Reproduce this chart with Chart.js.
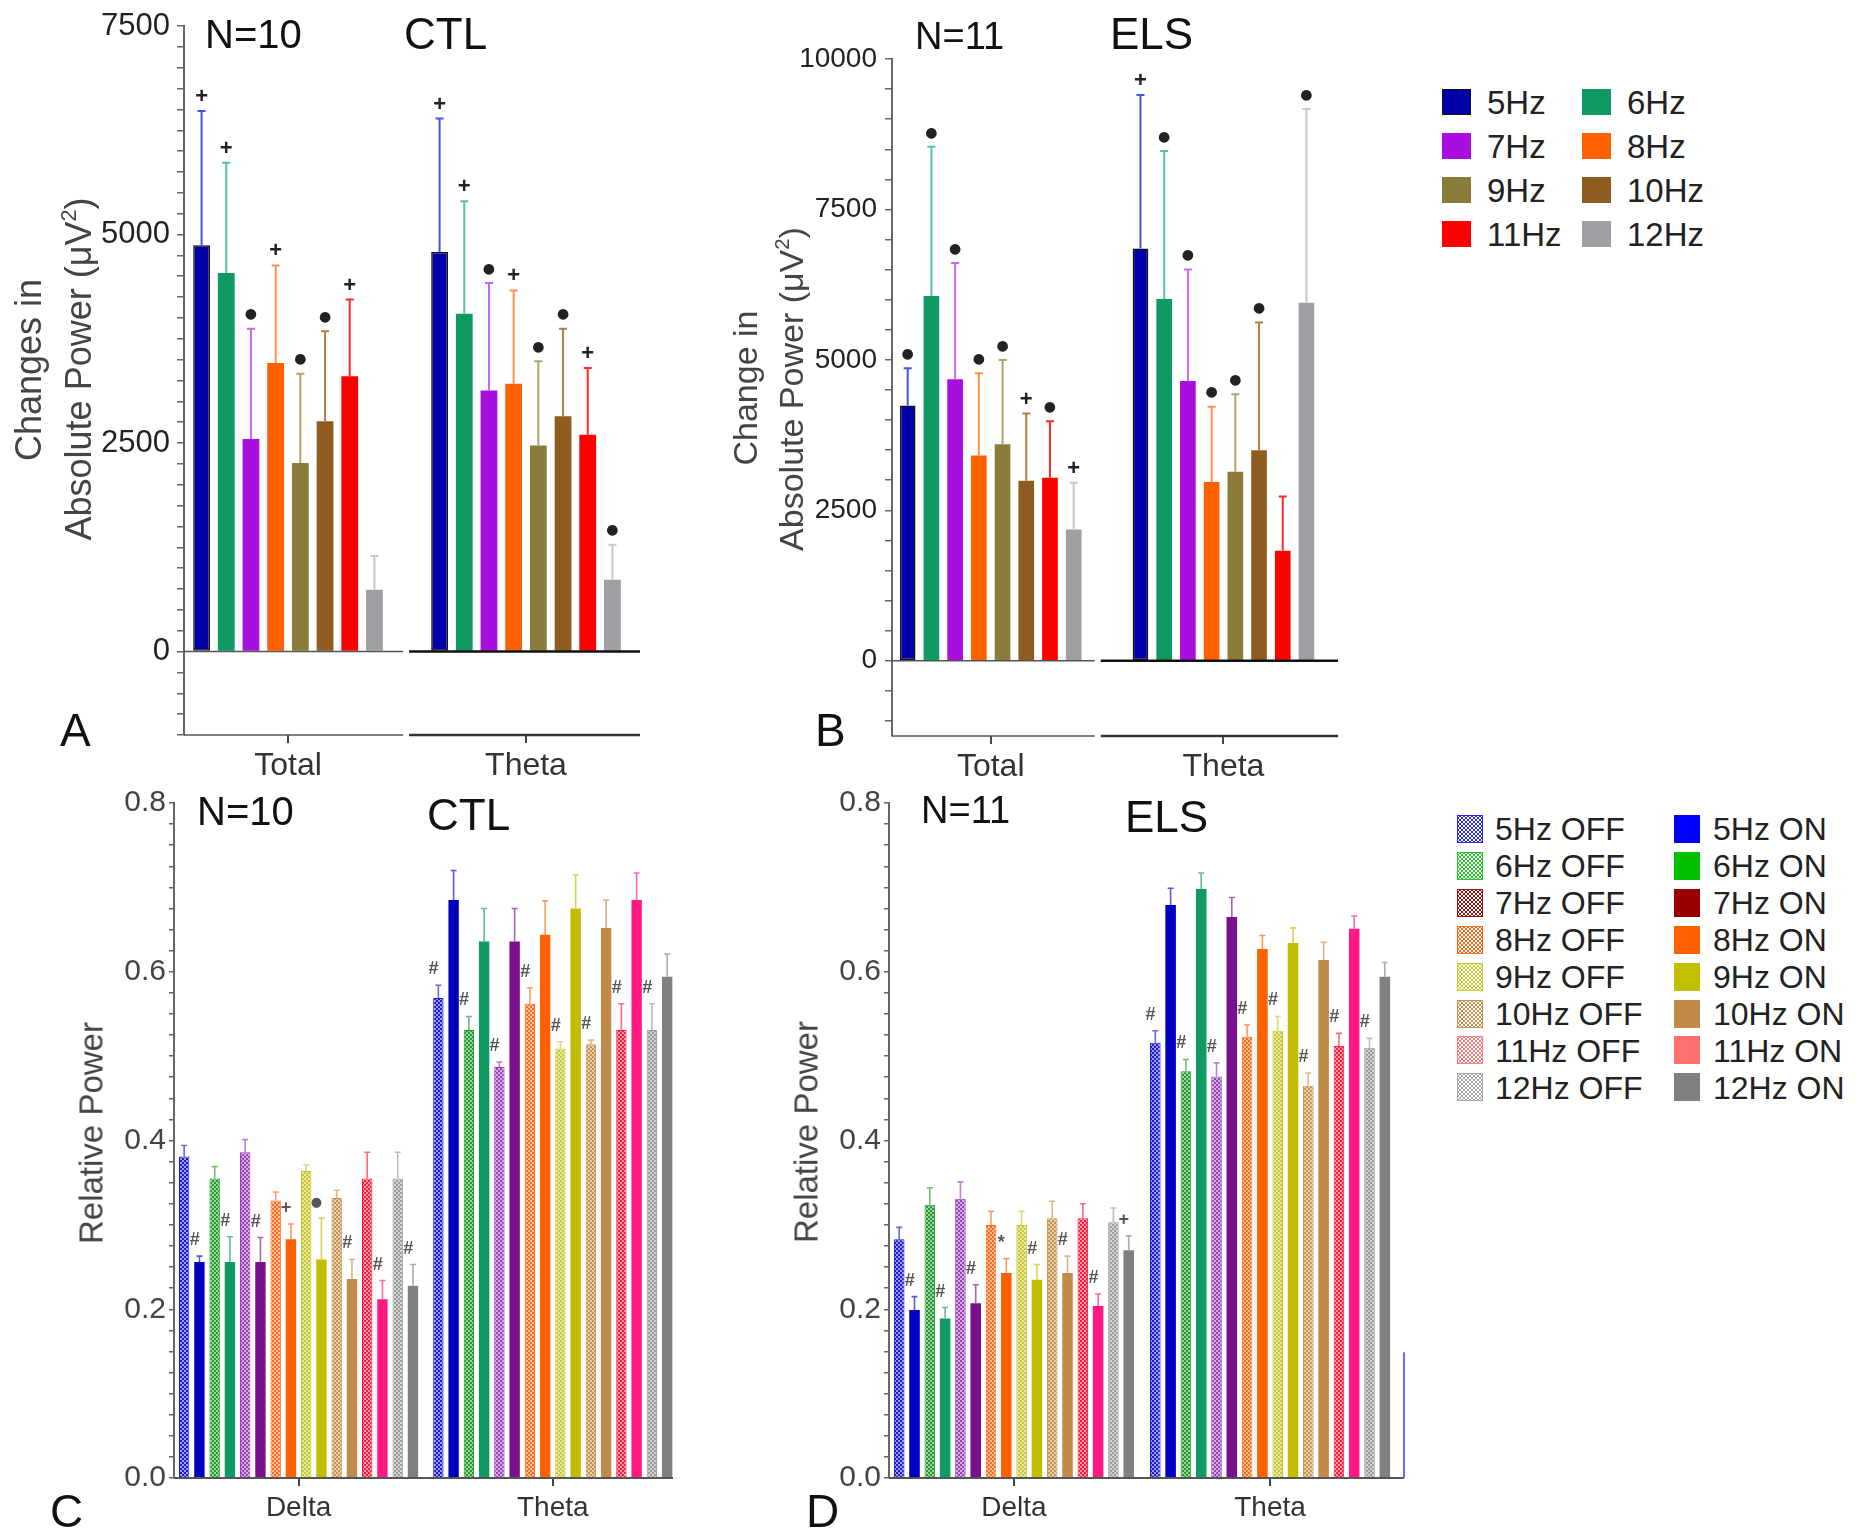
<!DOCTYPE html>
<html>
<head>
<meta charset="utf-8">
<script src="https://cdn.jsdelivr.net/npm/chart.js@4.4.1/dist/chart.umd.min.js"></script>
<style>
body { margin: 0; background: #fff; font-family: "Liberation Sans", Arial, sans-serif; }
#fig { position: relative; width: 1860px; height: 1535px; overflow: hidden; background: #fff; }
canvas { position: absolute; }
.t { position: absolute; white-space: nowrap; line-height: 1; color: #111; }
.yt { position: absolute; white-space: nowrap; line-height: 1; color: #444; transform: translate(-50%, -50%) rotate(-90deg); }
.yt sup { font-size: 0.6em; vertical-align: 0.7em; line-height: 0; }
.sq { position: absolute; box-sizing: border-box; }
.lg { position: absolute; white-space: nowrap; line-height: 1; color: #222; }
</style>
</head>
<body>
<div id="fig">
  <canvas id="cA" width="680" height="800" style="left:0;top:0"></canvas>
  <canvas id="cB" width="680" height="800" style="left:700px;top:0"></canvas>
  <canvas id="cC" width="700" height="765" style="left:0;top:770px"></canvas>
  <canvas id="cD" width="660" height="765" style="left:780px;top:770px"></canvas>

  <div class="t" style="left:205px;top:14px;font-size:40px">N=10</div>
  <div class="t" style="left:404px;top:12px;font-size:44px">CTL</div>
  <div class="t" style="left:915px;top:17px;font-size:38px">N=11</div>
  <div class="t" style="left:1110px;top:12px;font-size:44px">ELS</div>
  <div class="t" style="left:197px;top:791px;font-size:40px">N=10</div>
  <div class="t" style="left:427px;top:793px;font-size:44px">CTL</div>
  <div class="t" style="left:921px;top:791px;font-size:38px">N=11</div>
  <div class="t" style="left:1125px;top:795px;font-size:44px">ELS</div>

  <div class="t" style="left:60px;top:707px;font-size:46px">A</div>
  <div class="t" style="left:815px;top:707px;font-size:46px">B</div>
  <div class="t" style="left:50px;top:1488px;font-size:46px">C</div>
  <div class="t" style="left:806px;top:1488px;font-size:46px">D</div>

  <div class="yt" style="left:29px;top:370px;font-size:36px">Changes in</div>
  <div class="yt" style="left:79px;top:369px;font-size:36px">Absolute Power (μV<sup>2</sup>)</div>
  <div class="yt" style="left:745px;top:388px;font-size:34px">Change in</div>
  <div class="yt" style="left:791px;top:389px;font-size:34px">Absolute Power (μV<sup>2</sup>)</div>
  <div class="yt" style="left:91px;top:1133px;font-size:33px">Relative Power</div>
  <div class="yt" style="left:806px;top:1132px;font-size:33px">Relative Power</div>
</div>

<script>
// categories
const freqs = ['5Hz', '6Hz', '7Hz', '8Hz', '9Hz', '10Hz', '11Hz', '12Hz'];
const bandsAB = ['Total', 'Theta'];
const bandsCD = ['Delta', 'Theta'];
const conditions = freqs.flatMap(f => [f + ' OFF', f + ' ON']);

// A - CTL, change in absolute power (mean, top of error bar, marker)
const ctlTotal    = [4870, 4540, 2550, 3460, 2260, 2760, 3300, 740];
const ctlTotalErr = [6480, 5860, 3870, 4630, 3330, 3840, 4220, 1145];
const ctlTotalSig = ['+', '+', '●', '+', '●', '●', '+', ''];
const ctlTheta    = [4790, 4050, 3130, 3210, 2470, 2820, 2600, 860];
const ctlThetaErr = [6390, 5400, 4420, 4330, 3480, 3870, 3400, 1280];
const ctlThetaSig = ['+', '+', '●', '+', '●', '●', '+', '●'];

// B - ELS, change in absolute power
const elsTotal    = [4240, 6060, 4680, 3410, 3600, 2990, 3040, 2180];
const elsTotalErr = [4860, 8540, 6610, 4780, 5000, 4110, 3980, 2960];
const elsTotalSig = ['●', '●', '●', '●', '●', '+', '●', '+'];
const elsTheta    = [6850, 6010, 4650, 2970, 3140, 3500, 1830, 5950];
const elsThetaErr = [9400, 8470, 6500, 4220, 4430, 5620, 2730, 9170];
const elsThetaSig = ['+', '●', '●', '●', '●', '●', '', '●'];

// C - CTL relative power, order: 5Hz OFF, 5Hz ON, 6Hz OFF, ...
const ctlDelta       = [0.381, 0.256, 0.355, 0.256, 0.386, 0.256, 0.329, 0.283, 0.364, 0.259, 0.332, 0.236, 0.355, 0.212, 0.355, 0.228];
const ctlDeltaErr    = [0.394, 0.263, 0.369, 0.286, 0.401, 0.285, 0.339, 0.301, 0.371, 0.308, 0.341, 0.259, 0.386, 0.234, 0.386, 0.253];
const ctlDeltaSig    = ['', '#', '', '#', '', '#', '', '+', '', '●', '', '#', '', '#', '', '#'];
const ctlRelTheta    = [0.569, 0.685, 0.531, 0.636, 0.487, 0.636, 0.562, 0.644, 0.509, 0.675, 0.514, 0.652, 0.531, 0.685, 0.531, 0.594];
const ctlRelThetaErr = [0.584, 0.720, 0.547, 0.675, 0.493, 0.675, 0.581, 0.684, 0.517, 0.715, 0.519, 0.685, 0.562, 0.717, 0.562, 0.621];
const ctlRelThetaSig = ['#', '', '#', '', '#', '', '#', '', '#', '', '#', '', '#', '', '#', ''];

// D - ELS relative power
const elsDelta       = [0.283, 0.199, 0.324, 0.189, 0.331, 0.207, 0.300, 0.243, 0.300, 0.235, 0.308, 0.243, 0.308, 0.204, 0.303, 0.270];
const elsDeltaErr    = [0.297, 0.215, 0.344, 0.202, 0.351, 0.229, 0.316, 0.260, 0.316, 0.253, 0.328, 0.263, 0.325, 0.218, 0.320, 0.287];
const elsDeltaSig    = ['', '#', '', '#', '', '#', '', '*', '', '#', '', '#', '', '#', '', '+'];
const elsRelTheta    = [0.516, 0.679, 0.482, 0.698, 0.476, 0.665, 0.523, 0.627, 0.530, 0.634, 0.465, 0.614, 0.512, 0.651, 0.510, 0.594];
const elsRelThetaErr = [0.530, 0.699, 0.496, 0.717, 0.492, 0.688, 0.537, 0.643, 0.547, 0.652, 0.480, 0.635, 0.527, 0.666, 0.521, 0.611];
const elsRelThetaSig = ['#', '', '#', '', '#', '', '#', '', '#', '', '#', '', '#', '', '#', ''];

// the stray blue line at the right end of panel D
const strayD = 0.149;

// colours
const abColors = ['#0000a8', '#0e9a62', '#a80ee0', '#ff6000', '#8a7d3a', '#8e5c1e', '#ff0000', '#a0a0a4'];
const abErr    = ['#4455dd', '#55c49c', '#cc66f0', '#ff9050', '#b0a46c', '#b08040', '#ff2a2a', '#c8c8cc'];
const offColors = ['#1a1ad2', '#229a2a', '#9a40b8', '#ff6a1a', '#c8c830', '#c8924c', '#ff1a3c', '#9a9a9a'];
const onColors  = ['#0000c0', '#0e9a62', '#78108e', '#ff6000', '#c2bd00', '#c08a48', '#ff1a82', '#808080'];
const legOff = ['#2828ff', '#28c828', '#a01010', '#ff6a1a', '#c8c830', '#c8924c', '#ff7c7c', '#a8a8a8'];
const legOn  = ['#0000ff', '#00c000', '#990000', '#ff6000', '#c0c000', '#c08a48', '#ff7070', '#808080'];

Chart.defaults.font.family = '"Liberation Sans", Arial, sans-serif';

function tint(hex, f) {
  const n = parseInt(hex.slice(1), 16);
  const m = v => Math.round(v + (255 - v) * f);
  return `rgb(${m(n >> 16)},${m((n >> 8) & 255)},${m(n & 255)})`;
}

// dotted fill for the OFF bars
function dots(color) {
  const c = document.createElement('canvas');
  c.width = 4; c.height = 4;
  const g = c.getContext('2d');
  g.fillStyle = color; g.fillRect(0, 0, 4, 4);
  g.fillStyle = 'rgba(255,255,255,0.85)';
  g.beginPath(); g.arc(1, 1, 0.9, 0, Math.PI * 2); g.fill();
  g.beginPath(); g.arc(3, 3, 0.9, 0, Math.PI * 2); g.fill();
  return g.createPattern(c, 'repeat');
}

//error bars + significance markers
const errorBars = {
  id: 'errorBars',
  afterDatasetsDraw(chart, args, o) {
    const { ctx } = chart;
    const y = chart.scales.y;
    ctx.save();
    chart.data.datasets.forEach((ds, i) => {
      chart.getDatasetMeta(i).data.forEach((bar, j) => {
        const p = bar.getProps(['x', 'y', 'width'], true);
        const top = y.getPixelForValue(ds.errs[j]);
        const half = o.cap;
        ctx.strokeStyle = ds.errColor;
        ctx.lineWidth = o.width;
        ctx.beginPath();
        ctx.moveTo(p.x, p.y);
        ctx.lineTo(p.x, top);
        ctx.moveTo(p.x - half, top);
        ctx.lineTo(p.x + half, top);
        ctx.stroke();
        const s = ds.sigs[j];
        if (s) {
          ctx.fillStyle = o.sigColor;
          ctx.font = s === '●' ? o.dotFont : (s === '#' ? o.hashFont : o.plusFont);
          ctx.textAlign = 'center';
          ctx.textBaseline = 'middle';
          ctx.fillText(s, p.x + o.dx, top - o.dy);
        }
      });
    });
    ctx.restore();
  }
};

// bottom axis with a break, zero line
const axisLines = {
  id: 'axisLines',
  afterDatasetsDraw(chart, args, o) {
    const { ctx, chartArea: a } = chart;
    const x = chart.scales.x, y = chart.scales.y;
    const bx = x.getPixelForValue(o.breakAt);
    const seg = (x0, x1, yy, col, w) => {
      ctx.strokeStyle = col; ctx.lineWidth = w;
      ctx.beginPath(); ctx.moveTo(x0, yy); ctx.lineTo(x1, yy); ctx.stroke();
    };
    ctx.save();
    seg(a.left, bx - o.gap, a.bottom, o.leftColor, o.leftWidth);
    seg(bx + o.gap, a.right, a.bottom, o.rightColor, o.rightWidth);
    if (o.zero) {
      const zy = y.getPixelForValue(0);
      seg(a.left, bx - o.gap, zy, o.leftColor, o.leftWidth);
      seg(bx + o.gap, a.right, zy, '#111', 2.5);
    }
    if (o.stray) {
      ctx.strokeStyle = '#3a3aff'; ctx.lineWidth = 1.5;
      ctx.beginPath();
      ctx.moveTo(a.right, y.getPixelForValue(0));
      ctx.lineTo(a.right, y.getPixelForValue(o.stray));
      ctx.stroke();
    }
    ctx.restore();
  }
};

function makeChart(id, c) {
  return new Chart(document.getElementById(id), {
    type: 'bar',
    data: { datasets: c.datasets },
    options: {
      responsive: false,
      animation: false,
      layout: { padding: c.pad },
      datasets: { bar: { categoryPercentage: c.cat, barPercentage: c.bar } },
      plugins: {
        legend: { display: false },
        tooltip: { enabled: false },
        errorBars: c.err,
        axisLines: c.axis
      },
      scales: {
        x: {
          type: 'linear', min: c.xMin, max: c.xMax, offset: false,
          afterBuildTicks: s => { s.ticks = c.bands.map((b, i) => ({ value: i })); },
          afterFit: s => { s.height = c.xH; },
          ticks: { callback: v => c.bands[v], color: '#333', font: { size: c.xFont }, padding: c.xPad, autoSkip: false, maxRotation: 0 },
          grid: { display: true, drawOnChartArea: false, offset: false, tickLength: 8, color: '#444', lineWidth: 2 },
          border: { display: false }
        },
        y: {
          min: c.yMin, max: c.yMax,
          // minor ticks on every multiple of the step
          afterBuildTicks: s => {
            const t = [];
            const first = Math.ceil(c.yMin / c.step - 1e-9);
            const last = Math.floor(c.yMax / c.step + 1e-9);
            for (let k = first; k <= last; k++) t.push({ value: +(k * c.step).toFixed(4) });
            s.ticks = t;
          },
          afterFit: s => { s.width = c.yW; },
          ticks: { stepSize: c.step, autoSkip: false, callback: c.yLabel, color: c.yColor, font: { size: c.yFont }, padding: c.yPad },
          grid: { drawOnChartArea: false, tickLength: c.yTick, color: '#666', lineWidth: 1.5 },
          border: { color: '#666', width: 2 }
        }
      }
    },
    plugins: [errorBars, axisLines]
  });
}

function abSets(total, totalErr, totalSig, theta, thetaErr, thetaSig) {
  return freqs.map((f, k) => ({
    label: f,
    data: [{ x: 0, y: total[k] }, { x: 1, y: theta[k] }],
    backgroundColor: abColors[k],
    borderColor: '#111',
    borderWidth: k === 0 ? 1.5 : 0,
    borderSkipped: false,
    errs: [totalErr[k], thetaErr[k]],
    sigs: [totalSig[k], thetaSig[k]],
    errColor: abErr[k]
  }));
}

function cdSets(delta, deltaErr, deltaSig, theta, thetaErr, thetaSig) {
  return conditions.map((name, k) => {
    const f = k >> 1, off = k % 2 === 0;
    const col = off ? offColors[f] : onColors[f];
    return {
      label: name,
      data: [{ x: 0, y: delta[k] }, { x: 1, y: theta[k] }],
      backgroundColor: off ? dots(col) : col,
      borderColor: col,
      borderWidth: off ? 1 : 0,
      errs: [deltaErr[k], thetaErr[k]],
      sigs: [deltaSig[k], thetaSig[k]],
      errColor: tint(col, 0.35)
    };
  });
}

const abErrOpts = { width: 2, cap: 4, dx: 0, dy: 14, sigColor: '#222', plusFont: 'bold 22px "Liberation Sans"', dotFont: '14px "DejaVu Sans"', hashFont: '16px "Liberation Sans"' };
const cdErrOpts = { width: 1.6, cap: 3, dx: -5, dy: 16, sigColor: '#555', plusFont: 'bold 18px "Liberation Sans"', dotFont: '13px "DejaVu Sans"', hashFont: 'italic bold 18px "Liberation Sans"' };

const bigLabel = v => (v >= 0 && v % 2500 === 0) ? String(v) : '';
const relLabel = v => (Math.abs(v * 5 - Math.round(v * 5)) < 1e-6 && v > -1e-9) ? v.toFixed(1) : '';

makeChart('cA', {
  datasets: abSets(ctlTotal, ctlTotalErr, ctlTotalSig, ctlTheta, ctlThetaErr, ctlThetaSig),
  bands: bandsAB, pad: { left: 0, top: 26, right: 40, bottom: 0 },
  cat: 0.83, bar: 0.68, xMin: -0.437, xMax: 1.479, xH: 65, xFont: 32, xPad: 4,
  yMin: -1000, yMax: 7500, step: 250, yW: 184, yLabel: bigLabel, yColor: '#222', yFont: 31, yPad: 7, yTick: 7,
  err: abErrOpts,
  axis: { breakAt: 0.496, gap: 3, leftColor: '#555', leftWidth: 1.5, rightColor: '#333', rightWidth: 2.5, zero: true }
});

makeChart('cB', {
  datasets: abSets(elsTotal, elsTotalErr, elsTotalSig, elsTheta, elsThetaErr, elsThetaSig),
  bands: bandsAB, pad: { left: 0, top: 59, right: 42, bottom: 0 },
  cat: 0.815, bar: 0.66, xMin: -0.424, xMax: 1.492, xH: 64, xFont: 32, xPad: 4,
  yMin: -1250, yMax: 10000, step: 500, yW: 192, yLabel: bigLabel, yColor: '#222', yFont: 28, yPad: 8, yTick: 7,
  err: abErrOpts,
  axis: { breakAt: 0.46, gap: 3, leftColor: '#555', leftWidth: 1.5, rightColor: '#333', rightWidth: 2.5, zero: true }
});

makeChart('cC', {
  datasets: cdSets(ctlDelta, ctlDeltaErr, ctlDeltaSig, ctlRelTheta, ctlRelThetaErr, ctlRelThetaSig),
  bands: bandsCD, pad: { left: 0, top: 33, right: 27, bottom: 0 },
  cat: 0.96, bar: 0.68, xMin: -0.49, xMax: 1.473, xH: 57, xFont: 28, xPad: 5,
  yMin: 0, yMax: 0.8, step: 0.025, yW: 174, yLabel: relLabel, yColor: '#444', yFont: 30, yPad: 3, yTick: 5,
  err: cdErrOpts,
  axis: { breakAt: 0.5, gap: 0, leftColor: '#555', leftWidth: 2, rightColor: '#555', rightWidth: 2, zero: false }
});

makeChart('cD', {
  datasets: cdSets(elsDelta, elsDeltaErr, elsDeltaSig, elsRelTheta, elsRelThetaErr, elsRelThetaSig),
  bands: bandsCD, pad: { left: 0, top: 33, right: 36, bottom: 0 },
  cat: 0.956, bar: 0.69, xMin: -0.488, xMax: 1.523, xH: 57, xFont: 28, xPad: 5,
  yMin: 0, yMax: 0.8, step: 0.025, yW: 109, yLabel: relLabel, yColor: '#444', yFont: 30, yPad: 3, yTick: 5,
  err: cdErrOpts,
  axis: { breakAt: 0.5, gap: 0, leftColor: '#555', leftWidth: 2, rightColor: '#555', rightWidth: 2, zero: false, stray: strayD }
});

// legends
const fig = document.getElementById('fig');
function addBox(x, y, w, h, style) {
  const d = document.createElement('div');
  d.className = 'sq';
  d.style.cssText = `left:${x}px;top:${y}px;width:${w}px;height:${h}px;` + style;
  fig.appendChild(d);
}
function addText(x, yc, size, txt) {
  const d = document.createElement('div');
  d.className = 'lg';
  d.style.cssText = `left:${x}px;top:${yc - size * 0.49}px;font-size:${size}px;`;
  d.textContent = txt;
  fig.appendChild(d);
}

// top legend: 2 columns, row-major
freqs.forEach((f, k) => {
  const col = k % 2, row = k >> 1;
  const yc = 102 + row * 44;
  const sx = [1442, 1582][col], tx = [1487, 1627][col];
  const border = k === 0 ? 'border:1.5px solid #111;' : '';
  addBox(sx, yc - 13, 29, 26, `background:${abColors[k]};` + border);
  addText(tx, yc, 33, f);
});

// bottom legend: OFF column, ON column
freqs.forEach((f, k) => {
  const yc = 829 + k * 36.9;
  const c0 = legOff[k];
  addBox(1457, yc - 14, 26, 28,
    `background-color:${c0};border:1px solid ${c0};` +
    'background-image:radial-gradient(circle,#fff 0.9px,transparent 1.4px),radial-gradient(circle,#fff 0.9px,transparent 1.4px);' +
    'background-size:4px 4px;background-position:0 0,2px 2px;');
  addText(1495, yc, 32, f + ' OFF');
  addBox(1674, yc - 14, 26, 28, `background:${legOn[k]};`);
  addText(1713, yc, 32, f + ' ON');
});
</script>
</body>
</html>
